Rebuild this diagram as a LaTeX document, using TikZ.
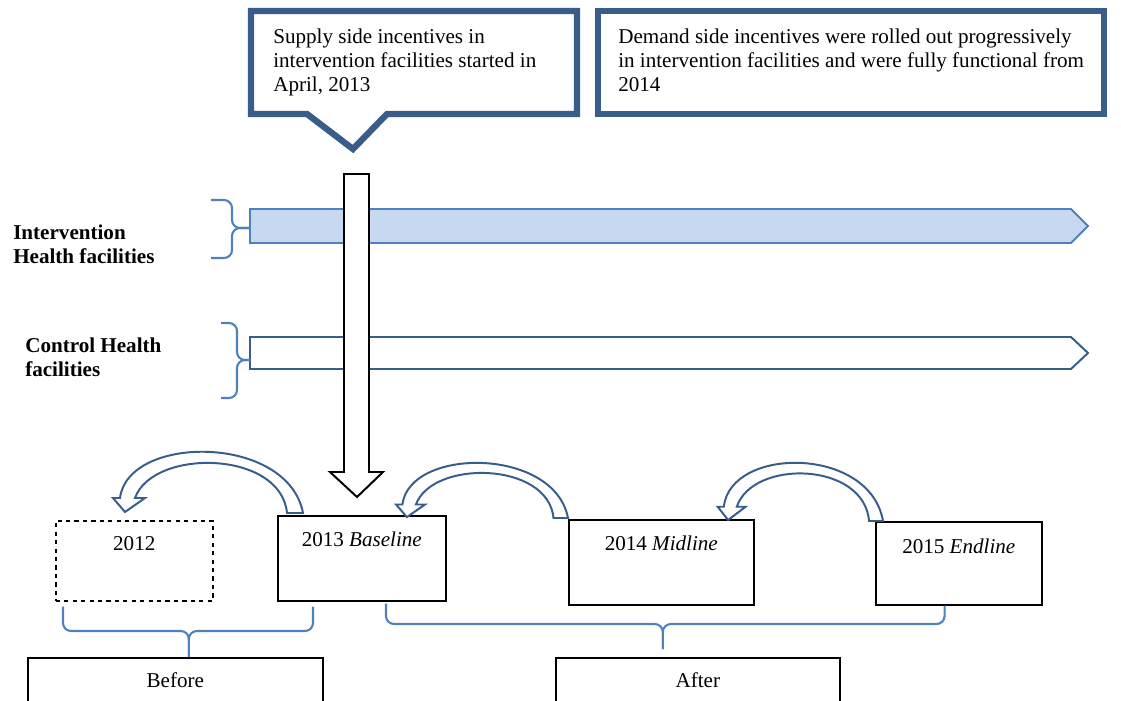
\documentclass[tikz,border=0pt]{standalone}
\usepackage{fontspec}
\setmainfont{Liberation Serif}
\definecolor{frameblue}{RGB}{56,93,138}
\definecolor{braceblue}{RGB}{79,129,189}
\definecolor{barfill}{RGB}{198,217,241}
\usetikzlibrary{positioning,calc}

\tikzset{
  txt/.style={font=\fontsize{15}{17}\selectfont, inner sep=0pt, align=left},
  sidelabel/.style={txt, font=\fontsize{15}{17}\selectfont\bfseries},
  yearbox/.style={draw, line width=1.1pt, inner sep=0pt, anchor=north west,
    text height=0.775cm, font=\fontsize{15}{17}\selectfont},
  bracket/.style={braceblue, line width=1.5pt, rounded corners=0.2cm},
  callout/.style={frameblue, line width=4.5pt, line join=miter, fill=white},
  backarrow/.style={frameblue, line width=1.4pt, fill=white, line join=miter},
  back arrow/.pic={
    \draw[backarrow] (0,0) -- (-16,0)
      .. controls (-22,-63) and (-150,-65) .. (-168,-15)
      -- (-158,-15) -- (-178,-1) -- (-190,-15) -- (-183,-15)
      .. controls (-175,-79) and (-15,-79) .. (0,0) -- cycle;
  }
}

\begin{document}
\begin{tikzpicture}[x=0.025cm, y=-0.025cm]
    \useasboundingbox (0,0) rectangle (1121,700);

    % Callouts
    \draw[callout] (251,11) -- (577,11) -- (577,114) -- (387,114)
        -- (353,149) -- (307,114) -- (251,114) -- cycle;
    \draw[callout] (598,11) rectangle (1104,114);
    \node[txt, anchor=base west] (supplytext) at (273,91)
        {Supply side incentives in\\intervention facilities started in\\April, 2013};
    \node[txt, anchor=base west] (demandtext) at (618,91)
        {Demand side incentives were rolled out progressively\\in intervention facilities and were fully functional from\\2014};

    % Facility bars
    \draw[braceblue, line width=1.4pt, fill=barfill]
        (250,209) -- (1071,209) -- (1088,226) -- (1071,243) -- (250,243) -- cycle;
    \draw[frameblue, line width=1.4pt, fill=white]
        (250,337) -- (1071,337) -- (1088,353) -- (1071,369) -- (250,369) -- cycle;
    \draw[bracket] (211,200) -| (232,228) -- (250,228);
    \draw[bracket] (211,258) -| (232,228) -- (250,228);
    \draw[bracket] (221,323) -| (237,360) -- (250,360);
    \draw[bracket] (221,398) -| (237,360) -- (250,360);
    \node[sidelabel, anchor=base west] (intlabel) at (13,263) {Intervention\\Health facilities};
    \node[sidelabel, anchor=base west] (ctrllabel) at (25,376) {Control Health\\facilities};

    % Start of supply side incentives
    \draw[line width=1.4pt, fill=white, line join=miter]
        (344,174) -- (369,174) -- (369,472) -- (383,472) -- (357,497)
        -- (330,472) -- (344,472) -- cycle;

    % Survey rounds
    \node[yearbox, dashed, minimum width=3.925cm, text height=0.75cm, text depth=1.25cm]
        (y2012) at (55,520) {2012};
    \node[yearbox, minimum width=4.2cm, text depth=1.35cm]
        (y2013) at (277,515) {2013 \textit{Baseline}};
    \node[yearbox, minimum width=4.625cm, text depth=1.35cm]
        (y2014) at (568,519) {2014 \textit{Midline}};
    \node[yearbox, minimum width=4.15cm, text height=0.8cm, text depth=1.275cm]
        (y2015) at (875,521) {2015 \textit{Endline}};
    \node[yearbox, minimum width=7.375cm, text height=0.75cm, text depth=1cm]
        (before) at (27,657) {Before};
    \node[yearbox, minimum width=7.1cm, text height=0.75cm, text depth=1cm]
        (after) at (555,657) {After};

    % Curved arrows back to the previous round
    \path ($(y2013.north west)+(26,-2)$) pic {back arrow};
    \path ($(y2014.north west)+(0,-1)$) pic[xscale=0.905, yscale=0.9] {back arrow};
    \path ($(y2015.north west)+(8,0)$) pic[xscale=0.87, yscale=0.95] {back arrow};

    % Before / after brackets
    \coordinate (bl) at ($(y2012.south west)+(8,5)$);
    \coordinate (br) at ($(y2013.south west)+(36,5)$);
    \coordinate (bt) at ($(before.north)+(13.5,0)$);
    \draw[bracket] (bl) |- ($(bt)+(0,-26)$) -- (bt);
    \draw[bracket] (br) |- ($(bt)+(0,-26)$) -- (bt);
    \coordinate (al) at ($(y2013.south west)+(109,2)$);
    \coordinate (ar) at ($(y2015.south east)+(-98,0)$);
    \coordinate (at) at ($(after.north)+(-35,-8)$);
    \draw[bracket] (al) |- ($(at)+(0,-25)$) -- (at);
    \draw[bracket] (ar) |- ($(at)+(0,-25)$) -- (at);
\end{tikzpicture}
\end{document}
